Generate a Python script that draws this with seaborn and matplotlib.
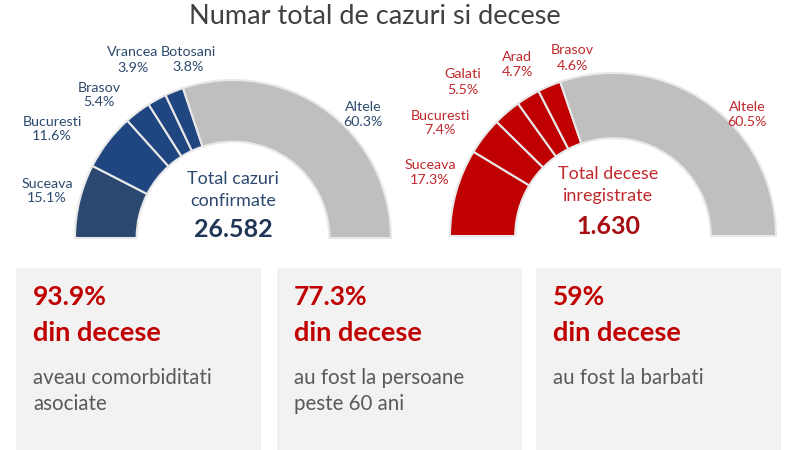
import matplotlib
matplotlib.use("Agg")
import matplotlib.pyplot as plt
import seaborn as sns
from matplotlib.patches import Rectangle

# data
cases_labels = ["Suceava", "Bucuresti", "Brasov", "Vrancea", "Botosani", "Altele"]
cases_values = [15.1, 11.6, 5.4, 3.9, 3.8, 60.3]
deaths_labels = ["Suceava", "Bucuresti", "Galati", "Arad", "Brasov", "Altele"]
deaths_values = [17.3, 7.4, 5.5, 4.7, 4.6, 60.5]
total_cases = "26.582"
total_deaths = "1.630"
box_pcts = ["93.9%", "77.3%", "59%"]
box_texts = ["aveau comorbiditati\nasociate", "au fost la persoane\npeste 60 ani", "au fost la barbati"]

sns.set_theme(style="white")
plt.rcParams['font.family'] = ['Lato', 'DejaVu Sans']

W, H = 800, 450
fig = plt.figure(figsize=(8, 4.5), dpi=100)
fig.patch.set_facecolor("white")

BLUE = "#1f4681"
BLUE_D = "#2a4870"
RED = "#c00000"
GREY = "#bfbfbf"
BLUE_TXT = "#2d4a6e"
RED_TXT = "#c0282d"


def half_donut(cx, cy, r, width, values, colors):
    ax = fig.add_axes([(cx - r) / W, (H - cy - r) / H, 2 * r / W, 2 * r / H])
    vals = list(values) + [sum(values)]
    cols = list(colors) + ["none"]
    wedges, _ = ax.pie(vals, colors=cols, startangle=180, counterclock=False,
                       wedgeprops=dict(width=width, edgecolor="#e8e8e8", linewidth=1.5))
    wedges[-1].set_edgecolor("none")
    ax.set_xlim(-1, 1)
    ax.set_ylim(-1, 1)
    ax.set_aspect("equal")
    ax.axis("off")
    return ax


half_donut(233, 238, 158, 0.39, cases_values, [BLUE_D] + [BLUE] * 4 + [GREY])
half_donut(613, 236, 163, 0.40, deaths_values, [RED] * 5 + [GREY])


def ftext(x, y, s, **kw):
    fig.text(x / W, 1 - y / H, s, ha="center", va="center", **kw)


ftext(375, 16, "Numar total de cazuri si decese", fontsize=19.5, color="#404040")

# left labels
left_pos = [(47, 191), (52, 129), (99, 95), (133, 60), (188, 59), (363, 114)]
for (x, y), lab, v in zip(left_pos, cases_labels, cases_values):
    ftext(x, y, "%s\n%.1f%%" % (lab, v), fontsize=10.3, color=BLUE_TXT, linespacing=1.3)

right_pos = [(430, 173), (440, 123), (463, 82), (517, 65), (572, 58), (747, 114)]
for (x, y), lab, v in zip(right_pos, deaths_labels, deaths_values):
    ftext(x, y, "%s\n%.1f%%" % (lab, v), fontsize=10.3, color=RED_TXT, linespacing=1.3)

ftext(233, 190, "Total cazuri\nconfirmate", fontsize=13, color="#2d4a6e", linespacing=1.5)
ftext(233, 230, total_cases, fontsize=18, color="#1f3655", fontweight="bold")
ftext(608, 185, "Total decese\ninregistrate", fontsize=13, color=RED_TXT, linespacing=1.5)
ftext(608, 227, total_deaths, fontsize=18, color="#a80d12", fontweight="bold")

# bottom boxes
box_x = [16, 277, 536]
for bx, pct, txt in zip(box_x, box_pcts, box_texts):
    fig.add_artist(Rectangle((bx / W, 0), 245 / W, (H - 268) / H,
                             transform=fig.transFigure, facecolor="#f2f2f2", edgecolor="none"))
    fig.text((bx + 17) / W, 1 - 297 / H, pct, ha="left", va="center",
             fontsize=19, fontweight="bold", color=RED)
    fig.text((bx + 17) / W, 1 - 333 / H, "din decese", ha="left", va="center",
             fontsize=19.5, fontweight="bold", color=RED)
    fig.text((bx + 17) / W, 1 - 368 / H, txt, ha="left", va="top",
             fontsize=14.8, color="#595959", linespacing=1.35)

fig.savefig("out.png", dpi=100)
